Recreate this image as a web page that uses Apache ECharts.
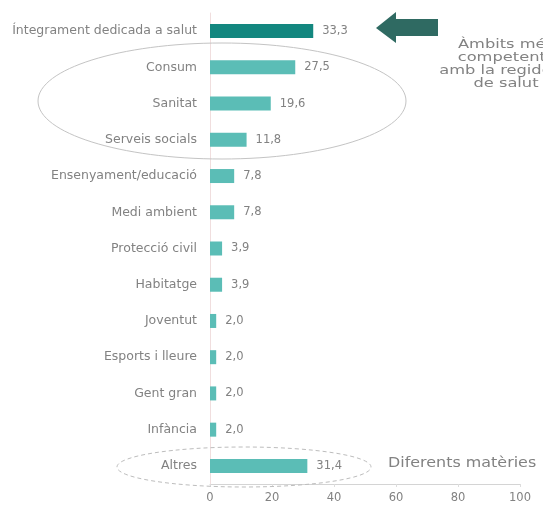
<!DOCTYPE html>
<html>
<head>
<meta charset="utf-8">
<script src="https://cdn.jsdelivr.net/npm/echarts@6/dist/echarts.min.js"></script>
<style>
  html, body { margin: 0; padding: 0; background: #fff; }
  #chart { width: 543px; height: 509px; }
</style>
</head>
<body>
<div id="chart"></div>
<script>
// Àmbits de treball (percentatge)
const categories = [
  'Íntegrament dedicada a salut', 'Consum', 'Sanitat', 'Serveis socials',
  'Ensenyament/educació', 'Medi ambient', 'Protecció civil', 'Habitatge',
  'Joventut', 'Esports i lleure', 'Gent gran', 'Infància', 'Altres'
];
const values = [33.3, 27.5, 19.6, 11.8, 7.8, 7.8, 3.9, 3.9, 2.0, 2.0, 2.0, 2.0, 31.4];
const xTicks = [0, 20, 40, 60, 80, 100];

const highlightColor = '#13877f';
const barColor = '#5bbdb6';
const textGray = '#828282';
const font = 'DejaVu Sans';

const chart = echarts.init(document.getElementById('chart'), null, { renderer: 'canvas' });

chart.setOption({
  animation: false,
  backgroundColor: '#ffffff',
  grid: { left: 210, right: 23, top: 13, bottom: 25, containLabel: false },
  xAxis: {
    type: 'value',
    min: xTicks[0],
    max: xTicks[xTicks.length - 1],
    interval: 20,
    splitLine: { show: false },
    axisLine: { show: true, lineStyle: { color: '#d4d4d4', width: 1 } },
    axisTick: { show: true, length: 3, lineStyle: { color: '#dddddd' } },
    axisLabel: { color: textGray, fontFamily: font, fontSize: 11.5, margin: 8 }
  },
  yAxis: {
    type: 'category',
    inverse: true,
    data: categories,
    axisLine: { show: true, lineStyle: { color: '#f0dede', width: 1 } },
    axisTick: { show: false },
    axisLabel: { color: textGray, fontFamily: font, fontSize: 12.5, margin: 13 }
  },
  series: [{
    type: 'bar',
    data: values.map((v, i) => ({
      value: v,
      itemStyle: { color: i === 0 ? highlightColor : barColor }
    })),
    barWidth: 14,
    label: {
      show: true,
      position: 'right',
      distance: 9,
      color: textGray,
      fontFamily: font,
      fontSize: 11.5,
      formatter: p => p.value.toFixed(1).replace('.', ',')
    }
  }],
  graphic: [
    {
      type: 'ellipse',
      shape: { cx: 222, cy: 101, rx: 184, ry: 58 },
      style: { fill: 'none', stroke: '#c4c4c4', lineWidth: 1 },
      z: 1
    },
    {
      type: 'ellipse',
      shape: { cx: 244, cy: 467, rx: 127, ry: 20 },
      style: { fill: 'none', stroke: '#bdbdbd', lineWidth: 1, lineDash: [4, 3] },
      z: 1
    },
    {
      type: 'polygon',
      shape: {
        points: [[376, 28], [396, 12], [396, 19], [438, 19], [438, 36], [396, 36], [396, 43]]
      },
      style: { fill: '#2f6a62' },
      z: 5
    },
    {
      // side note, drawn slightly widened
      type: 'text',
      x: 506, y: 38,
      scaleX: 1.25,
      style: {
        x: 0, y: 0,
        text: 'Àmbits més\ncompetents\namb la regidoria\nde salut',
        align: 'center',
        fill: textGray,
        font: '13px "DejaVu Sans"',
        lineHeight: 13
      },
      z: 5
    },
    {
      type: 'text',
      x: 388, y: 456,
      scaleX: 1.18,
      style: {
        x: 0, y: 0,
        text: 'Diferents matèries',
        fill: textGray,
        font: '13.5px "DejaVu Sans"'
      },
      z: 5
    }
  ]
});
</script>
</body>
</html>
